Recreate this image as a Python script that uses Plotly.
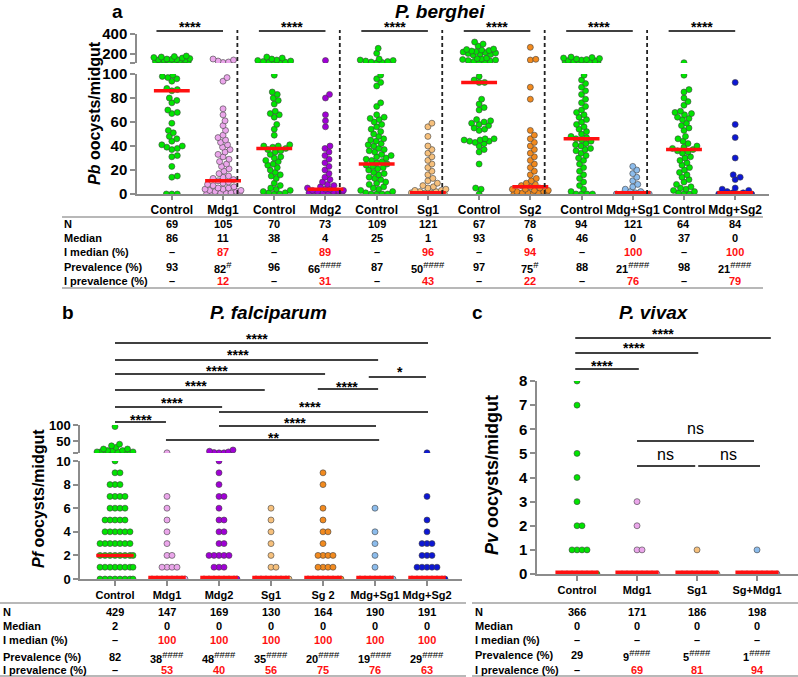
import plotly.graph_objects as go

W, H = 798, 677
FONT = "Liberation Sans, Arial, sans-serif"

# ---------------- colours ----------------
GREEN = "#00e400"
PINK = "#eba6eb"
PURPLE = "#a000d6"
LORANGE = "#f6c07c"
ORANGE = "#f28a1e"
LBLUE = "#8cbcec"
BLUE = "#0d17d4"
RED = "#ff1010"

# ---------------- Panel a : P. berghei ----------------
a_labels = ["Control", "Mdg1", "Control", "Mdg2", "Control", "Sg1",
            "Control", "Sg2", "Control", "Mdg+Sg1", "Control", "Mdg+Sg2"]
pb_ctrl1 = [0, 0, 0, 14, 15, 23, 31, 32, 37, 38, 39, 40, 41, 44, 46, 48, 51, 53, 59, 67, 68, 70, 76, 78, 80,
            86, 87, 88, 94, 96, 97, 98, 99, 112, 115, 118, 120, 122, 125, 128, 130, 132, 135, 138, 140, 142,
            145, 148, 150, 155, 160, 165, 170, 175, 180]
pb_mdg1 = [0, 0, 0, 0, 0, 0, 0, 1, 1, 1, 2, 2, 3, 3, 4, 4, 5, 5, 6, 7, 8, 9, 10, 11, 12, 13, 14, 15, 17, 19,
           21, 23, 25, 27, 29, 31, 33, 35, 37, 39, 41, 43, 45, 47, 49, 53, 57, 61, 66, 71, 94, 97,
           115, 120, 130, 140, 150]
pb_ctrl2 = [0, 0, 1, 1, 2, 3, 4, 5, 7, 9, 13, 15, 16, 18, 20, 22, 24, 25, 27, 28, 30, 31, 33, 35, 36, 37, 38,
            39, 40, 40, 41, 49, 54, 58, 64, 66, 67, 69, 75, 78, 80, 83, 85, 99, 112, 115, 118, 120, 125, 130,
            135, 140, 150, 160, 170]
pb_mdg2 = [0, 0, 0, 0, 0, 0, 1, 1, 1, 2, 2, 2, 3, 3, 4, 4, 5, 6, 7, 8, 10, 12, 14, 17, 20, 23, 26, 29, 32,
           35, 38, 40, 56, 61, 66, 80, 83, 135]
pb_ctrl3 = [0, 0, 0, 0, 1, 2, 3, 4, 5, 6, 8, 9, 10, 12, 13, 14, 16, 17, 18, 20, 21, 22, 23, 24, 25, 26, 27,
            28, 29, 30, 31, 32, 33, 35, 36, 37, 38, 40, 41, 42, 44, 45, 46, 48, 50, 52, 54, 56, 58, 60, 62,
            63, 64, 66, 73, 76, 90, 93, 96, 99, 112, 115, 120, 125, 130, 135, 140, 150, 207, 257]
pb_sg1 = [0, 0, 0, 0, 0, 0, 1, 1, 1, 2, 2, 3, 3, 4, 5, 6, 7, 9, 11, 13, 16, 19, 22, 25, 28, 31, 34, 37, 40,
          48, 56, 59]
pb_ctrl4 = [0, 4, 5, 25, 35, 37, 40, 42, 43, 44, 44, 45, 45, 46, 46, 53, 54, 55, 57, 58, 59, 60, 61, 62, 70,
            72, 75, 79, 93, 93, 95, 98, 115, 120, 125, 130, 135, 140, 145, 150, 155, 160, 190, 195, 200, 205,
            210, 215, 220, 225, 230, 235, 240, 245, 250, 280, 300, 320]
pb_sg2 = [0, 0, 0, 0, 0, 0, 0, 0, 1, 1, 1, 2, 2, 3, 3, 4, 4, 5, 6, 7, 8, 9, 11, 13, 16, 19, 22, 25, 28, 31,
          34, 37, 40, 43, 46, 49, 53, 79, 89, 140, 147, 267]
pb_ctrl5 = [0, 0, 0, 0, 2, 4, 7, 10, 13, 16, 19, 22, 25, 28, 30, 32, 34, 36, 37, 38, 40, 41, 42, 44, 45, 46,
            47, 48, 50, 52, 54, 56, 58, 60, 62, 64, 66, 68, 70, 73, 76, 79, 83, 86, 89, 92, 95, 99,
            112, 113, 115, 117, 118, 120, 122, 124, 126, 128, 130, 132, 135, 140, 145, 150, 155, 160, 165, 170]
pb_mdgsg1 = [0, 0, 0, 0, 0, 0, 0, 1, 2, 2, 4, 6, 8, 11, 14, 17, 20, 23]
pb_ctrl6 = [0, 0, 1, 2, 3, 4, 5, 6, 8, 10, 12, 14, 16, 18, 20, 22, 24, 26, 28, 30, 31, 34, 35, 36, 37, 38,
            39, 40, 42, 44, 46, 48, 53, 55, 57, 59, 62, 63, 64, 66, 67, 68, 69, 74, 77, 80, 85, 87, 99, 113]
pb_mdgsg2 = [0, 0, 0, 0, 0, 0, 0, 0, 1, 1, 2, 3, 4, 5, 12, 14, 16, 30, 47, 58, 93]
a_median = [86, 11, 38, 4, 25, 1, 93, 6, 46, 0, 37, 0]
a_N = [69, 105, 70, 73, 109, 121, 67, 78, 94, 121, 64, 84]
a_imedian = ["–", "87", "–", "89", "–", "96", "–", "94", "–", "100", "–", "100"]
a_prev = [93, 82, 96, 66, 87, 50, 97, 75, 88, 21, 98, 21]
a_prev_sig = ["", "#", "", "####", "", "####", "", "#", "", "####", "", "####"]
a_iprev = ["–", "12", "–", "31", "–", "43", "–", "22", "–", "76", "–", "79"]

# ---------------- Panel b : P. falciparum ----------------
b_labels = ["Control", "Mdg1", "Mdg2", "Sg1", "Sg 2", "Mdg+Sg1", "Mdg+Sg2"]
# visible dots per integer value 0..10
pf_ctrl_counts = [8, 8, 8, 7, 6, 5, 4, 4, 3, 2, 1]
pf_mdg1_counts = [8, 4, 2, 1, 1, 1, 1, 1, 0, 0, 0]
pf_mdg2_counts = [8, 3, 5, 2, 2, 2, 1, 2, 1, 1, 1]
pf_sg1_counts = [8, 2, 1, 1, 1, 1, 1, 0, 0, 0, 0]
pf_sg2_counts = [8, 4, 4, 1, 2, 1, 1, 0, 1, 1, 0]
pf_mdgsg1_counts = [8, 1, 1, 1, 1, 0, 1, 0, 0, 0, 0]
pf_mdgsg2_counts = [8, 5, 3, 3, 1, 1, 0, 1, 0, 0, 0]
pf_ctrl_high = [13, 13, 13, 13, 13, 13, 16, 16, 16, 16, 20, 20, 20, 25, 25, 30, 35, 40, 95]
pf_mdg1_high = [13]
pf_mdg2_high = [13, 13, 14, 16, 18, 22]
pf_sg1_high = []
pf_sg2_high = []
pf_mdgsg1_high = []
pf_mdgsg2_high = [13]
b_median = [2, 0, 0, 0, 0, 0, 0]
b_N = [429, 147, 169, 130, 164, 190, 191]
b_imedian = ["–", "100", "100", "100", "100", "100", "100"]
b_prev = [82, 38, 48, 35, 20, 19, 29]
b_prev_sig = ["", "####", "####", "####", "####", "####", "####"]
b_iprev = ["–", "53", "40", "56", "75", "76", "63"]

# ---------------- Panel c : P. vivax ----------------
c_labels = ["Control", "Mdg1", "Sg1", "Sg+Mdg1"]
pv_ctrl_counts = [8, 4, 2, 1, 1, 1, 0, 1, 1]
pv_mdg1_counts = [8, 2, 1, 1]
pv_sg1_counts = [8, 1]
pv_sgmdg1_counts = [8, 1]
c_median = [0, 0, 0, 0]
c_N = [366, 171, 186, 198]
c_imedian = ["–", "–", "–", "–"]
c_prev = [29, 9, 5, 1]
c_prev_sig = ["", "####", "####", "####"]
c_iprev = ["–", "69", "81", "94"]


def X(p):
    return p / W


def Y(p):
    return 1 - p / H


def expand(counts):
    return [v for v, n in enumerate(counts) for _ in range(n)]


def swarm(vals, ppu, d=5.2, maxw=18.0):
    order = sorted(range(len(vals)), key=lambda i: vals[i])
    cands = [0.0]
    k = 1
    while k * 0.5 <= maxw:
        cands += [k * 0.5, -k * 0.5]
        k += 1
    placed = []
    offs = [0.0] * len(vals)
    for i in order:
        y = vals[i] * ppu
        near = [(xo, yo) for xo, yo in placed if abs(y - yo) < d]
        best, bestc, bestd = None, 0.0, -1
        for c in cands:
            md = min((((c - xo) ** 2 + (y - yo) ** 2) ** 0.5 for xo, yo in near), default=1e9)
            if md >= d:
                best = c
                break
            if md > bestd:
                bestd, bestc = md, c
        if best is None:
            best = bestc
        offs[i] = best
        placed.append((best, y))
    return offs


fig = go.Figure()


def add_dots(xa, ya, center, vals, ppu, spacing, color, d=5.2, maxw=18.0):
    if not vals:
        return
    offs = swarm(vals, ppu, d=d, maxw=maxw)
    fig.add_trace(go.Scatter(
        x=[center + o / spacing for o in offs], y=vals, mode="markers", xaxis=xa, yaxis=ya,
        marker=dict(size=6, color=color, line=dict(color="#404040", width=0.6)),
        hoverinfo="skip", showlegend=False))


def add_medians(xa, ya, med, half, width, zwidth):
    for zero, w in ((False, width), (True, zwidth)):
        xs, ys = [], []
        for i, m in enumerate(med):
            if (m == 0) == zero:
                xs += [i - half, i + half, None]
                ys += [m, m, None]
        if xs:
            fig.add_trace(go.Scatter(x=xs, y=ys, mode="lines", xaxis=xa, yaxis=ya,
                                     line=dict(color=RED, width=w), hoverinfo="skip", showlegend=False))


# ---- panel a dots
a_vals = [pb_ctrl1, pb_mdg1, pb_ctrl2, pb_mdg2, pb_ctrl3, pb_sg1, pb_ctrl4, pb_sg2, pb_ctrl5, pb_mdgsg1,
          pb_ctrl6, pb_mdgsg2]
a_colors = [GREEN, PINK, GREEN, PURPLE, GREEN, LORANGE, GREEN, ORANGE, GREEN, LBLUE, GREEN, BLUE]
A_SP = 51.3
for i, (vals, col) in enumerate(zip(a_vals, a_colors)):
    add_dots("x", "y", i, [v for v in vals if v <= 100], 1.2, A_SP, col)
    add_dots("x", "y2", i, [v for v in vals if v > 100], 0.1, A_SP, col)
add_medians("x", "y", a_median, 0.35, 3.5, 6)

# ---- panel b dots
b_counts = [pf_ctrl_counts, pf_mdg1_counts, pf_mdg2_counts, pf_sg1_counts, pf_sg2_counts, pf_mdgsg1_counts,
            pf_mdgsg2_counts]
b_high = [pf_ctrl_high, pf_mdg1_high, pf_mdg2_high, pf_sg1_high, pf_sg2_high, pf_mdgsg1_high, pf_mdgsg2_high]
b_colors = [GREEN, PINK, PURPLE, LORANGE, ORANGE, LBLUE, BLUE]
B_SP = 52.0
for i in range(7):
    add_dots("x2", "y3", i, expand(b_counts[i]), 11.8, B_SP, b_colors[i], d=4.6)
    add_dots("x2", "y4", i, b_high[i], 0.32, B_SP, b_colors[i], d=4.6)
add_medians("x2", "y3", b_median, 0.36, 3.5, 6.5)

# ---- panel c dots
c_counts = [pv_ctrl_counts, pv_mdg1_counts, pv_sg1_counts, pv_sgmdg1_counts]
c_colors = [GREEN, PINK, LORANGE, LBLUE]
C_SP = 60.0
for i in range(4):
    add_dots("x3", "y5", i, expand(c_counts[i]), 24.1, C_SP, c_colors[i], d=4.6, maxw=20)
add_medians("x3", "y5", c_median, 0.36, 4, 7)

shapes = []
ann = []


def line(x0, x1, y0, y1, xref="paper", color="black", width=1.5, dash="solid"):
    shapes.append(dict(type="line", xref=xref, yref="paper", x0=x0, x1=x1, y0=y0, y1=y1,
                       line=dict(color=color, width=width, dash=dash)))


def text(x, y, s, size=11, xref="paper", color="black", xanchor="center", angle=0):
    ann.append(dict(x=x, y=y, xref=xref, yref="paper", text=s, showarrow=False, xanchor=xanchor,
                    yanchor="middle", textangle=angle,
                    font=dict(family=FONT, size=size, color=color)))


# ---- panel a decorations
for k in range(5):
    line(2 * k + 1.28, 2 * k + 1.28, Y(194), Y(30), xref="x", color="#222222", width=1.8, dash="4px,3px")
for k in range(6):
    line(2 * k - 0.3, 2 * k + 1.0, Y(31), Y(31), xref="x", width=1.5)
    text(2 * k + 0.35, Y(27), "<b>****</b>", size=14, xref="x")

# ---- panel b significance
b_sig = [(0, 6.02, 343, "****", 2.74, 336), (0, 5.06, 360, "****", 2.37, 352), (0, 4.04, 374, "****", 1.96, 368),
         (4.88, 5.98, 377, "*", 5.48, 369), (0, 2.88, 390, "****", 1.56, 383), (3.9, 5.06, 389, "****", 4.46, 384),
         (0, 2.06, 407, "****", 1.1, 400), (2.0, 6.02, 412, "****", 3.75, 404), (0, 0.98, 422, "****", 0.5, 417),
         (2.0, 5.02, 426, "****", 3.46, 420), (0.98, 5.08, 440, "**", 3.04, 435)]
for x0, x1, yb, lab, tx, ty in b_sig:
    line(x0, x1, Y(yb), Y(yb), xref="x2", width=1.3)
    text(tx, Y(ty + 3), "<b>" + lab + "</b>", size=14, xref="x2")

# ---- panel c significance
c_sig = [(-0.03, 3.23, 338, "****", 1.43, 331), (-0.03, 2.02, 353, "****", 0.95, 345),
         (-0.03, 1.03, 369, "****", 0.42, 363), (1.0, 2.95, 441, "ns", 1.98, 428),
         (1.0, 1.97, 466, "ns", 1.48, 454), (2.02, 3.05, 466, "ns", 2.53, 454)]
for x0, x1, yb, lab, tx, ty in c_sig:
    line(x0, x1, Y(yb), Y(yb), xref="x3", width=1.5)
    if lab == "ns":
        text(tx, Y(ty), lab, size=16, xref="x3")
    else:
        text(tx, Y(ty + 3), "<b>" + lab + "</b>", size=14, xref="x3")

# ---- titles
text(X(117), Y(11), "<b>a</b>", size=19)
text(X(440), Y(11), "<b><i>P. berghei</i></b>", size=19)
text(X(68), Y(313), "<b>b</b>", size=19)
text(X(268), Y(313), "<b><i>P. falciparum</i></b>", size=19)
text(X(477), Y(313), "<b>c</b>", size=19)
text(X(654), Y(312), "<b><i>P. vivax</i></b>", size=19)
text(X(94), Y(113), "<b><i>Pb</i> oocysts/midgut</b>", size=16, angle=-90)
text(X(38), Y(499), "<b><i>Pf</i> oocysts/midgut</b>", size=16, angle=-90)
text(X(492), Y(475), "<b><i>Pv</i> oocysts/midgut</b>", size=18, angle=-90)


# ---- tables
def table(xref, label_x, x_left, x_right, line_top, line_bot, rows_y, N, med, imed, prev, psig, iprev):
    line(X(x_left), X(x_right), Y(line_top), Y(line_top), color="#a0a0a0", width=1.5)
    line(X(x_left), X(x_right), Y(line_bot), Y(line_bot), color="#a0a0a0", width=1.5)
    names = ["N", "Median", "I median (%)", "Prevalence (%)", "I prevalence (%)"]
    for nm, yy in zip(names, rows_y):
        text(X(label_x), Y(yy), "<b>" + nm + "</b>", size=11, xanchor="left")
    for i in range(len(N)):
        text(i, Y(rows_y[0]), "<b>%s</b>" % N[i], xref=xref)
        text(i, Y(rows_y[1]), "<b>%s</b>" % med[i], xref=xref)
        text(i, Y(rows_y[2]), "<b>%s</b>" % imed[i], xref=xref, color="black" if imed[i] == "–" else RED)
        s = "<b>%s</b>" % prev[i]
        if psig[i]:
            s += '<sup><span style="font-size:9.5px">%s</span></sup>' % psig[i]
        text(i, Y(rows_y[3]), s, xref=xref)
        text(i, Y(rows_y[4]), "<b>%s</b>" % iprev[i], xref=xref, color="black" if iprev[i] == "–" else RED)


table("x", 62, 62, 763, 217, 288, [224, 238, 252, 267, 281], a_N, a_median, a_imedian, a_prev, a_prev_sig, a_iprev)
table("x2", 1, 0, 466, 603, 676, [612, 626, 640, 657, 670], b_N, b_median, b_imedian, b_prev, b_prev_sig, b_iprev)
table("x3", 473, 472, 798, 603, 676, [612, 626, 640, 655, 670], c_N, c_median, c_imedian, c_prev, c_prev_sig,
      c_iprev)

AX = dict(showgrid=False, zeroline=False, showline=True, linecolor="#8c8c8c", linewidth=1.5, ticks="outside",
          tickcolor="#8c8c8c", tickwidth=1.5, ticklen=5, automargin=False)


def tf(size):
    return dict(family=FONT, size=size, color="black", weight="bold")


fig.update_layout(
    width=W, height=H, margin=dict(l=0, r=0, t=0, b=0, pad=0), paper_bgcolor="white", plot_bgcolor="white",
    showlegend=False, shapes=shapes, annotations=ann,
    xaxis=dict(AX, domain=[X(137), X(769)], anchor="y", range=[-0.68, 11.66], tickvals=list(range(12)),
               ticktext=a_labels, tickfont=tf(12), ticklen=4),
    yaxis=dict(AX, domain=[Y(194), Y(74)], anchor="x", range=[0, 100], tickvals=[0, 20, 40, 60, 80, 100],
               tickfont=tf(15)),
    yaxis2=dict(AX, domain=[Y(63), Y(34)], anchor="x", range=[110, 400], tickvals=[110, 200, 400],
                ticktext=["", "200", "400"], tickfont=tf(15)),
    xaxis2=dict(AX, domain=[X(80), X(462)], anchor="y3", range=[-0.673, 6.673], tickvals=list(range(7)),
                ticktext=b_labels, tickfont=tf(11)),
    yaxis3=dict(AX, domain=[Y(579), Y(461)], anchor="x2", range=[0, 10], tickvals=[0, 2, 4, 6, 8, 10],
                tickfont=tf(13)),
    yaxis4=dict(AX, domain=[Y(453), Y(425)], anchor="x2", range=[12.5, 100], tickvals=[12.5, 50, 100],
                ticktext=["", "50", "100"], tickfont=tf(13)),
    xaxis3=dict(AX, domain=[X(537), 1.0], anchor="y5", range=[-0.667, 3.683], tickvals=list(range(4)),
                ticktext=c_labels, tickfont=tf(11)),
    yaxis5=dict(AX, domain=[Y(574), Y(381)], anchor="x3", range=[0, 8], tickvals=list(range(9)),
                tickfont=tf(15)),
)

fig.write_html("out.html", config={"displayModeBar": False},
               post_script="document.body.style.margin='0';")
